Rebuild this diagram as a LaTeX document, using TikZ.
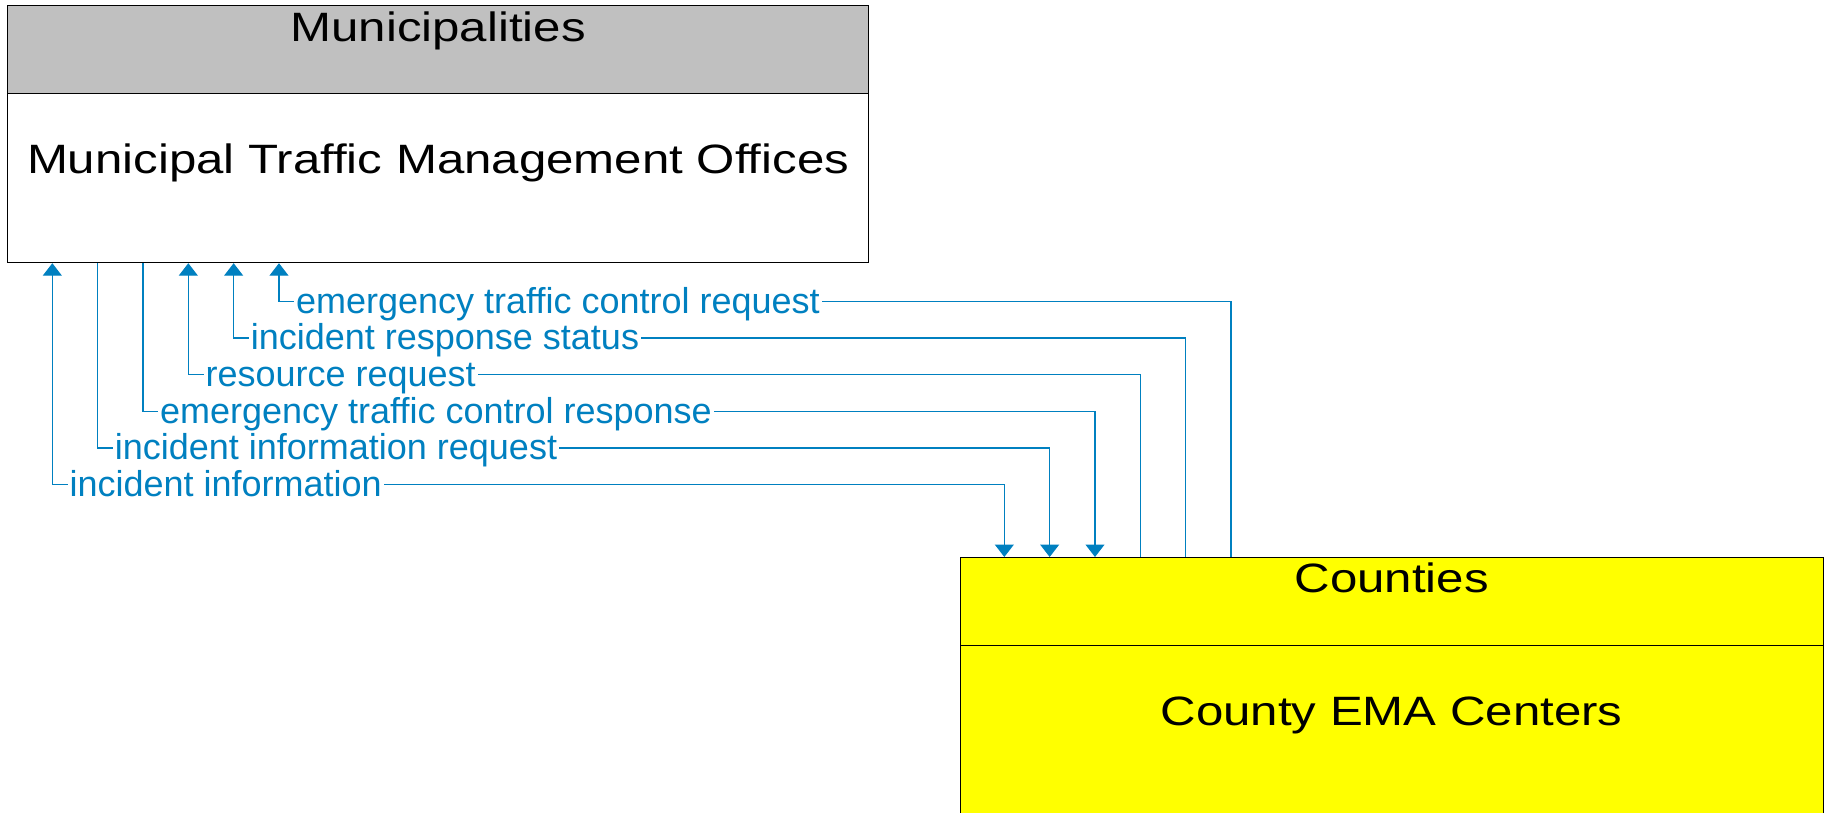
\documentclass[tikz,border=0pt]{standalone}
\usepackage{fontspec}
\setmainfont{Liberation Sans}
\newfontfamily\titlefont[FakeStretch=1.2]{Liberation Sans}
\usetikzlibrary{arrows.meta,calc}
\definecolor{flow}{RGB}{0,128,192}
\definecolor{hdrgray}{RGB}{192,192,192}
\definecolor{boxyellow}{RGB}{255,255,0}
\definecolor{edge}{RGB}{0,0,0}
\begin{document}
\begin{tikzpicture}[x=1pt,y=-1pt,
  box/.style={draw=edge,line width=1.2pt,inner sep=0pt,anchor=north west},
  ttl/.style={font=\titlefont\fontsize{41}{49}\selectfont,inner sep=0pt,anchor=base},
  conn/.style={draw=flow,line width=1.2pt},
  tipend/.style={-{Triangle[width=19pt,length=12.5pt]}},
  tipstart/.style={{Triangle[width=19pt,length=12.5pt]}-},
  tipboth/.style={{Triangle[width=19pt,length=12.5pt]}-{Triangle[width=19pt,length=12.5pt]}},
  lbl/.style={font=\fontsize{36}{43}\selectfont,text=flow,fill=white,inner xsep=2pt,inner ysep=1pt,anchor=base west}]
\useasboundingbox (0,0) rectangle (1825,813);
% boxes
\node[box,fill=hdrgray,minimum width=861pt,minimum height=88pt] (munihdr) at (7,5) {};
\node[box,fill=white,minimum width=861pt,minimum height=169pt] (muni) at (7,93) {};
\node[box,fill=boxyellow,minimum width=863pt,minimum height=88pt] (cntyhdr) at (959.5,557) {};
\node[box,fill=boxyellow,minimum width=863pt,minimum height=170pt] (cnty) at (959.5,645) {};
\node[ttl] (munittl) at ($(munihdr.north)+(0,36.7)$) {Municipalities};
\node[ttl] (munitxt) at ($(munihdr.north)+(0,168.3)$) {Municipal Traffic Management Offices};
\node[ttl] (cntyttl) at ($(cntyhdr.north)+(0,35.3)$) {Counties};
\node[ttl] (cntytxt) at ($(cntyhdr.north)+(0,168)$) {County EMA Centers};
% attachment points
\foreach \k in {1,...,6}{
  \coordinate (m\k) at ($(muni.south west)+(45.33*\k,0)$);
  \coordinate (c\k) at ($(cntyhdr.north west)+(45.33*\k-0.5,0)$);
}
% connectors (drop below the municipal box)
\draw[conn,tipboth] (m1) -- ($(m1)+(0,221.3)$) -| (c1);
\draw[conn,tipend]  (m2) -- ($(m2)+(0,184.7)$) -| (c2);
\draw[conn,tipend]  (m3) -- ($(m3)+(0,148)$) -| (c3);
\draw[conn,tipstart] (m4) -- ($(m4)+(0,111.3)$) -| (c4);
\draw[conn,tipstart] (m5) -- ($(m5)+(0,74.7)$) -| (c5);
\draw[conn,tipstart] (m6) -- ($(m6)+(0,38)$) -| (c6);
% labels
\node[lbl] (l1) at ($(m1)+(15,221.3+12)$) {incident information};
\node[lbl] (l2) at ($(m2)+(15,184.7+12)$) {incident information request};
\node[lbl] (l3) at ($(m3)+(15,148+12)$) {emergency traffic control response};
\node[lbl] (l4) at ($(m4)+(15,111.3+12)$) {resource request};
\node[lbl] (l5) at ($(m5)+(15,74.7+12)$) {incident response status};
\node[lbl] (l6) at ($(m6)+(15,38+12)$) {emergency traffic control request};
\end{tikzpicture}
\end{document}
